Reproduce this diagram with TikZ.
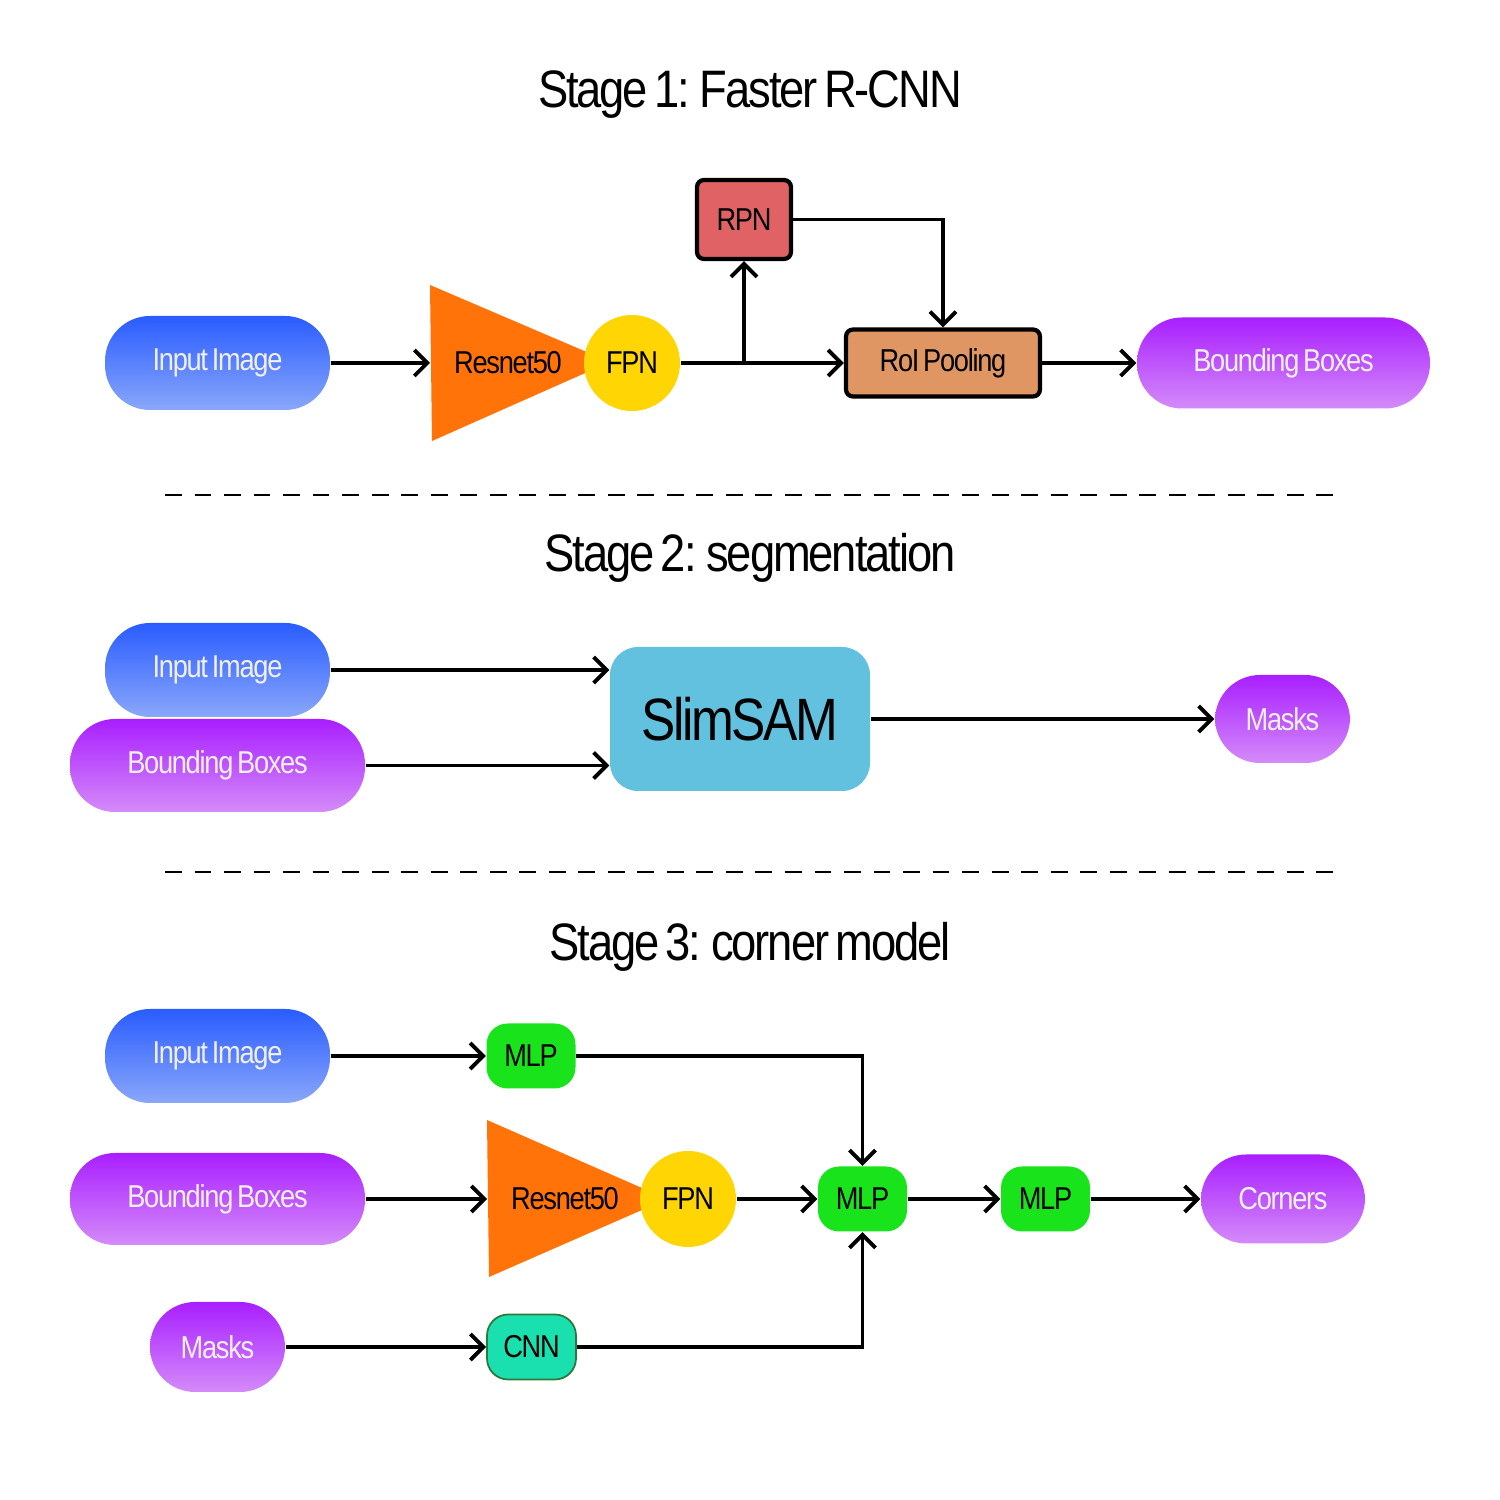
\documentclass[tikz,border=0pt]{standalone}
\usepackage{fontspec}
\setmainfont{Liberation Sans}[FakeStretch=0.86,LetterSpace=-4,WordSpace=0.6]
\usepackage{xcolor}
\usetikzlibrary{arrows.meta, positioning, calc}

\definecolor{inblue}{HTML}{2A5CFF}
\definecolor{inbluelight}{HTML}{89A7FA}
\definecolor{outpurple}{HTML}{A91FFF}
\definecolor{outpurplelight}{HTML}{D48BF9}
\definecolor{resorange}{HTML}{FF7309}
\definecolor{fpnyellow}{HTML}{FFD503}
\definecolor{rpnred}{HTML}{E06264}
\definecolor{roibrown}{HTML}{DF9662}
\definecolor{samblue}{HTML}{62C1DE}
\definecolor{mlpgreen}{HTML}{18E31B}
\definecolor{cnnteal}{HTML}{19E0AE}
\definecolor{cnnedge}{HTML}{2B7A3C}

\begin{document}
\begin{tikzpicture}[
        stagetitle/.style={font=\fontsize{15}{17}\selectfont},
        pill/.style={
            rectangle, rounded corners=0.45cm,
            text=white!94!black, font=\fontsize{9}{10}\selectfont,
            inner sep=0pt
        },
        inpill/.style={pill, top color=inblue, bottom color=inbluelight,
            minimum width=2.25cm, minimum height=0.94cm},
        outpill/.style={pill, top color=outpurple, bottom color=outpurplelight},
        resname/.style={font=\fontsize{9}{10}\selectfont},
        fpn/.style={circle, fill=fpnyellow, minimum size=0.96cm,
            inner sep=0pt, font=\fontsize{9}{10}\selectfont},
        stagebox/.style={
            rectangle, draw, line width=1.2pt, rounded corners=2pt,
            inner sep=0pt, font=\fontsize{9}{10}\selectfont
        },
        mlp/.style={
            rectangle, fill=mlpgreen, rounded corners=6pt,
            minimum width=0.89cm, minimum height=0.65cm,
            inner sep=0pt, font=\fontsize{9}{10}\selectfont
        },
        link/.style={line width=1.1pt, -{Straight Barb[length=1.3mm, width=2.6mm]}},
        separator/.style={line width=0.8pt, dash pattern=on 4.8pt off 3.6pt}
    ]
        \fill[white] (0,0) rectangle (15,15);
        \useasboundingbox (0,0) rectangle (15,15);

        \node[stagetitle] (title1) at (7.50, 14.05) {Stage 1: Faster R-CNN};

        \node[inpill] (in1) at (2.175, 11.37) {Input Image};
        \fill[resorange] (4.30,12.15) -- (4.32,10.59) -- (6.10,11.38) -- cycle;
        \coordinate (res1w) at (4.30, 11.37);
        \node[resname] (res1) at (5.08, 11.37) {Resnet50};
        \node[fpn] (fpn1) at (6.32, 11.37) {FPN};
        \node[stagebox, fill=rpnred, minimum width=0.94cm, minimum height=0.79cm]
            (rpn) at (7.44, 12.805) {RPN};
        \node[stagebox, fill=roibrown, minimum width=1.94cm, minimum height=0.67cm]
            (roi) at (9.43, 11.37) {RoI Pooling};
        \node[outpill, minimum width=2.93cm, minimum height=0.91cm]
            (bb1) at (12.835, 11.37) {Bounding Boxes};
        \coordinate (split) at (rpn.south |- fpn1.east);

        \draw[link] (in1) -- (res1w);
        \draw[link] (fpn1) -- (roi);
        \draw[link] (split) -- (rpn.south);
        \draw[link] (rpn.east) -| (roi.north);
        \draw[link] (roi) -- (bb1);

        \draw[separator] (1.65, 10.05) -- (13.35, 10.05);

        \node[stagetitle] (title2) at (7.50, 9.42) {Stage 2: segmentation};

        \node[inpill] (in2) at (2.175, 8.30) {Input Image};
        \node[outpill, minimum width=2.95cm, minimum height=0.93cm]
            (bb2) at (2.175, 7.345) {Bounding Boxes};
        \node[rectangle, fill=samblue, rounded corners=8pt,
              minimum width=2.60cm, minimum height=1.44cm,
              font=\fontsize{17}{19}\selectfont]
            (sam) at (7.40, 7.81) {SlimSAM};
        \node[outpill, minimum width=1.35cm, minimum height=0.88cm]
            (masks2) at (12.825, 7.81) {Masks};

        \draw[link] (in2) -- (in2 -| sam.west);
        \draw[link] (bb2) -- (bb2 -| sam.west);
        \draw[link] (sam) -- (masks2);

        \draw[separator] (1.65, 6.28) -- (13.35, 6.28);

        \node[stagetitle] (title3) at (7.50, 5.53) {Stage 3: corner model};

        \node[inpill] (in3) at (2.175, 4.44) {Input Image};
        \node[mlp] (mlpa) at (5.31, 4.44) {MLP};
        \node[outpill, minimum width=2.95cm, minimum height=0.92cm]
            (bb3) at (2.175, 3.01) {Bounding Boxes};
        \fill[resorange] (4.87,3.80) -- (4.89,2.23) -- (6.67,3.01) -- cycle;
        \coordinate (res2w) at (4.87, 3.01);
        \node[resname] (res2) at (5.65, 3.01) {Resnet50};
        \node[fpn] (fpn2) at (6.88, 3.01) {FPN};
        \node[mlp] (mlpb) at (8.625, 3.01) {MLP};
        \node[mlp] (mlpc) at (10.455, 3.01) {MLP};
        \node[outpill, minimum width=1.64cm, minimum height=0.89cm]
            (corners) at (12.83, 3.01) {Corners};
        \node[outpill, minimum width=1.35cm, minimum height=0.90cm]
            (masks3) at (2.175, 1.53) {Masks};
        \node[mlp, fill=cnnteal, draw=cnnedge, line width=0.5pt]
            (cnn) at (5.315, 1.53) {CNN};

        \draw[link] (in3) -- (mlpa);
        \draw[link] (bb3) -- (res2w);
        \draw[link] (fpn2) -- (mlpb);
        \draw[link] (mlpb) -- (mlpc);
        \draw[link] (mlpc) -- (corners);
        \draw[link] (masks3) -- (cnn);
        \draw[link] (mlpa.east) -| (mlpb.north);
        \draw[link] (cnn.east) -| (mlpb.south);
\end{tikzpicture}
\end{document}
